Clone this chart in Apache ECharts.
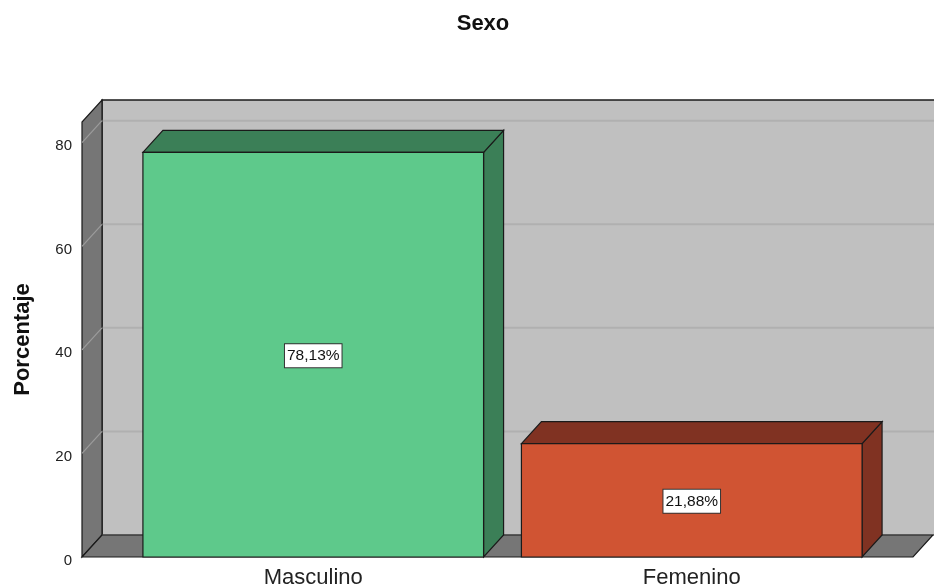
<!DOCTYPE html>
<html>
<head>
<meta charset="utf-8">
<title>Sexo</title>
<script src="https://cdn.jsdelivr.net/npm/echarts@6/dist/echarts.min.js"></script>
<style>
  html, body { margin: 0; padding: 0; background: #fff; }
  #chart { width: 934px; height: 588px; }
</style>
</head>
<body>
<div id="chart"></div>
<script>
  // datos
  const categories = ['Masculino', 'Femenino']
  const percentages = [78.13, 21.88]
  const yTicks = [0, 20, 40, 60, 80]
  const yMax = 84

  // colores frente / lado de cada barra
  const frontColors = ['#5ec98b', '#d05433']
  const sideColors = ['#3b7f57', '#803222']

  const DX = 20
  const DY = -22
  const FONT = "'Liberation Sans', Arial, sans-serif"

  const chart = echarts.init(document.getElementById('chart'))

  function fmt (v) {
    return v.toFixed(2).replace('.', ',') + '%'
  }

  // caja 3D: pared trasera, pared izquierda y piso
  function renderBox (params, api) {
    const cs = params.coordSys
    const x0 = cs.x - 42
    const x1 = cs.x + cs.width + 32
    const yTop = cs.y
    const y0 = cs.y + cs.height
    const xr = api.getWidth() + 20
    const children = []
    children.push({
      type: 'rect',
      shape: { x: x0 + DX, y: yTop + DY, width: xr - x0 - DX, height: y0 - yTop },
      style: { fill: '#c0c0c0', stroke: '#1a1a1a', lineWidth: 1.5 }
    })
    yTicks.forEach(function (v) {
      const y = api.coord([0, v])[1]
      children.push({
        type: 'line',
        shape: { x1: x0 + DX, y1: y + DY, x2: xr, y2: y + DY },
        style: { stroke: v === 0 ? '#9a9a9a' : '#b0b0b0', lineWidth: 2 }
      })
    })
    children.push({
      type: 'polygon',
      shape: { points: [[x0, y0], [x0, yTop], [x0 + DX, yTop + DY], [x0 + DX, y0 + DY]] },
      style: { fill: '#767676', stroke: '#1a1a1a', lineWidth: 1.2 }
    })
    yTicks.forEach(function (v) {
      if (v === 0) return
      const y = api.coord([0, v])[1]
      children.push({
        type: 'line',
        shape: { x1: x0, y1: y, x2: x0 + DX, y2: y + DY },
        style: { stroke: '#9c9c9c', lineWidth: 1.2 }
      })
    })
    children.push({
      type: 'polygon',
      shape: { points: [[x0, y0], [x1, y0], [x1 + DX, y0 + DY], [x0 + DX, y0 + DY]] },
      style: { fill: '#767676', stroke: '#1a1a1a', lineWidth: 1.2 }
    })
    return { type: 'group', children: children }
  }

  // barras 3D
  function renderBar (params, api) {
    const idx = params.dataIndex
    const val = api.value(1)
    const top = api.coord([api.value(0), val])
    const base = api.coord([api.value(0), 0])
    const w = api.size([1, 0])[0] * 0.9
    const xl = top[0] - w / 2
    const xr = top[0] + w / 2
    const yt = top[1]
    const yb = base[1]
    const stroke = { stroke: '#1a1a1a', lineWidth: 1.2 }
    return {
      type: 'group',
      children: [
        {
          type: 'polygon',
          shape: { points: [[xr, yb], [xr, yt], [xr + DX, yt + DY], [xr + DX, yb + DY]] },
          style: Object.assign({ fill: sideColors[idx] }, stroke)
        },
        {
          type: 'polygon',
          shape: { points: [[xl, yt], [xr, yt], [xr + DX, yt + DY], [xl + DX, yt + DY]] },
          style: Object.assign({ fill: sideColors[idx] }, stroke)
        },
        {
          type: 'rect',
          shape: { x: xl, y: yt, width: w, height: yb - yt },
          style: Object.assign({ fill: frontColors[idx] }, stroke)
        },
        {
          type: 'text',
          x: top[0],
          y: (yt + yb) / 2 + 1,
          style: {
            text: fmt(val),
            align: 'center',
            verticalAlign: 'middle',
            fill: '#111',
            font: '15.5px ' + FONT,
            backgroundColor: '#fff',
            borderColor: '#333',
            borderWidth: 1,
            padding: [4, 2, 3, 2]
          }
        }
      ]
    }
  }

  chart.setOption({
    animation: false,
    title: {
      text: 'Sexo',
      left: 478,
      top: 8,
      textAlign: 'center',
      textStyle: { fontFamily: FONT, fontSize: 22, fontWeight: 'bold', color: '#111' }
    },
    grid: {
      left: 124,
      right: 53,
      top: 122,
      bottom: 31,
      containLabel: false,
      outerBoundsMode: 'none'
    },
    xAxis: {
      type: 'category',
      data: categories,
      axisLine: { show: false },
      axisTick: { show: false },
      axisLabel: { fontFamily: FONT, fontSize: 22, color: '#222', margin: 10 }
    },
    yAxis: {
      type: 'value',
      min: 0,
      max: yMax,
      interval: 20,
      offset: 42,
      name: 'Porcentaje',
      nameLocation: 'middle',
      nameGap: 48,
      nameTextStyle: { fontFamily: FONT, fontSize: 22, fontWeight: 'bold', color: '#111' },
      axisLine: { show: false },
      axisTick: { show: false },
      splitLine: { show: false },
      axisLabel: {
        margin: 10,
        formatter: function (v) { return v % 20 === 0 ? '{t|' + v + '}' : '' },
        rich: {
          t: { fontFamily: FONT, fontSize: 15, color: '#222', padding: [7, 0, 0, 0] }
        }
      }
    },
    series: [
      {
        type: 'custom',
        name: 'caja',
        silent: true,
        clip: false,
        z: 1,
        renderItem: renderBox,
        data: [[0, 0]]
      },
      {
        type: 'custom',
        name: 'Sexo',
        clip: false,
        z: 2,
        renderItem: renderBar,
        data: percentages.map(function (v, i) { return [i, v] })
      }
    ]
  })
</script>
</body>
</html>
